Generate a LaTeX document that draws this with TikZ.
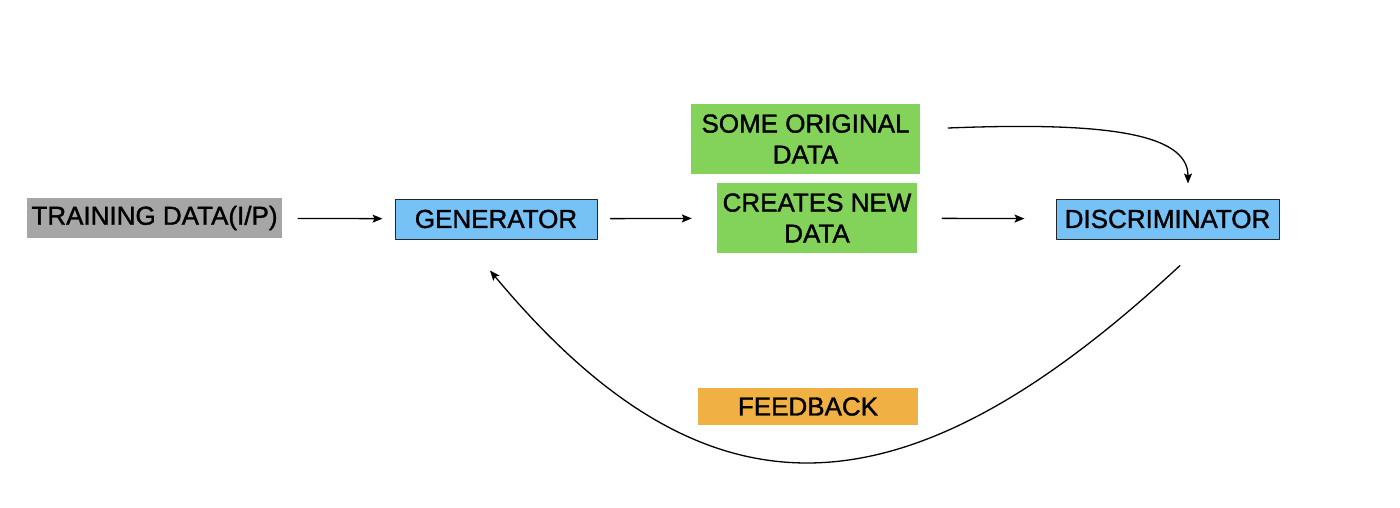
\documentclass[tikz,border=0pt]{standalone}
\usepackage{fontspec}
\setmainfont[UprightFeatures={FakeBold=1.3}]{Liberation Sans}
\usetikzlibrary{arrows.meta,positioning}
\definecolor{inputgray}{HTML}{A6A6A6}
\definecolor{blockblue}{HTML}{76C1F5}
\definecolor{datagreen}{HTML}{83D35B}
\definecolor{feedorange}{HTML}{F0B043}
\tikzset
{
	my box/.style={inner sep=0pt,align=center,font=\fontsize{26}{31}\selectfont},
	my block/.style={my box,draw=black!85,line width=1pt,fill=blockblue,minimum height=40pt},
	my data/.style={my box,fill=datagreen,minimum height=70pt},
	my arrow/.style={-{Stealth[length=10pt,width=8pt,inset=2pt]},line width=1.3pt}
}

\begin{document}
\begin{tikzpicture}[x=1pt,y=-1pt,line cap=round,line join=round]
		\useasboundingbox (0,0) rectangle (1400,508);
		% boxes
		\node[my box,fill=inputgray,minimum width=255pt,minimum height=40pt] (train) at (154.5,218) {TRAINING DATA(I/P)};
		\node[my block,minimum width=202pt] (gen) at (496,219) {GENERATOR};
		\node[my data,minimum width=200pt] (new) at (817,218) {CREATES NEW\\DATA};
		\node[my data,minimum width=229pt] (orig) at (805.5,139) {SOME ORIGINAL\\DATA};
		\node[my block,minimum width=223pt] (disc) at (1167.5,219) {DISCRIMINATOR};
		\node[my box,fill=feedorange,minimum width=220pt,minimum height=37pt] (fb) at (808,406.5) {FEEDBACK};
		% straight arrows
		\draw[my arrow,shorten <=16pt,shorten >=12pt] (train) -- (gen);
		\draw[my arrow,shorten <=13pt,shorten >=25pt] (gen) -- (new);
		\draw[my arrow,shorten <=25pt,shorten >=31pt] (new) -- (disc);
		% curved arrows
		\draw[my arrow] ([xshift=28pt,yshift=11pt]orig.east) .. controls (1100,122) and (1188,132) .. ([xshift=20.5pt,yshift=15pt]disc.north);
		\draw[my arrow] ([xshift=12.5pt,yshift=-26pt]disc.south) .. controls (899,527) and (704,527) .. ([xshift=-6pt,yshift=-31pt]gen.south);
	\end{tikzpicture}
\end{document}
